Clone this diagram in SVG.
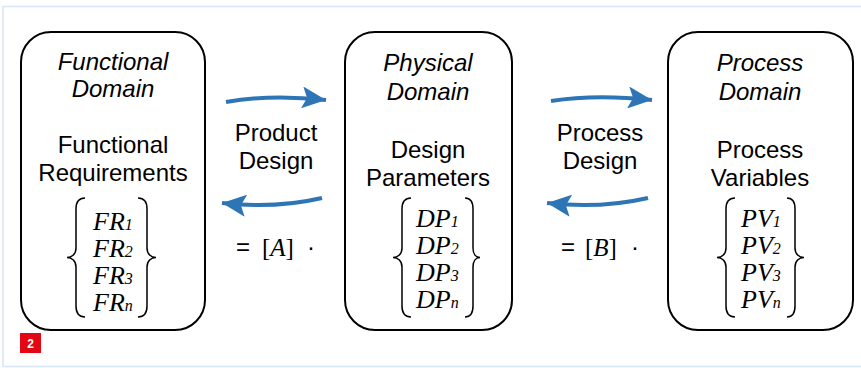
<svg xmlns="http://www.w3.org/2000/svg" width="861" height="368" viewBox="0 0 861 368">
  <defs>
    <style>
      .frame { fill: #ffffff; stroke: #d7e6f6; stroke-width: 1.5; }
      .box { fill: #ffffff; stroke: #000000; stroke-width: 2; }
      .head { font-family: "Liberation Sans", Arial, sans-serif; font-style: italic; font-size: 24px; fill: #000; text-anchor: middle; }
      .lbl { font-family: "Liberation Sans", Arial, sans-serif; font-size: 24px; fill: #000; text-anchor: middle; }
      .math { font-family: "Liberation Serif", "Times New Roman", serif; font-style: italic; font-size: 26px; fill: #000; }
      .sub { font-size: 16px; }
      .brace { fill: none; stroke: #000000; stroke-width: 1.5; }
      .arrow { fill: none; stroke: #2e75b6; stroke-width: 4; }
      .eq { font-family: "Liberation Sans", Arial, sans-serif; font-size: 24px; fill: #000; }
      .br { font-family: "Liberation Serif", "Times New Roman", serif; font-size: 25px; fill: #000; }
    </style>
    <marker id="head" markerUnits="userSpaceOnUse" markerWidth="26" markerHeight="22" refX="24" refY="11" orient="auto">
      <path d="M0,0 L24,11 L0,22 L5,11 Z" fill="#2e75b6"/>
    </marker>
  </defs>

  <rect class="frame" x="3" y="6.5" width="870" height="360"/>

  <!-- Functional domain -->
  <g id="functional-domain">
    <rect class="box" x="21" y="32" width="184" height="298" rx="30"/>
    <text class="head" x="113" y="70">Functional</text>
    <text class="head" x="113" y="97">Domain</text>
    <text class="lbl" x="113" y="153">Functional</text>
    <text class="lbl" x="113" y="181">Requirements</text>
    <path class="brace" d="M85,198 C79,198 76,201 76,209 L76,248 C76,254 72,257.5 67,257.5 C72,257.5 76,261 76,267 L76,306 C76,314 79,317 85,317"/>
    <path class="brace" d="M138,198 C144,198 147,201 147,209 L147,248 C147,254 151,257.5 156,257.5 C151,257.5 147,261 147,267 L147,306 C147,314 144,317 138,317"/>
    <text class="math" x="93" y="230">FR<tspan class="sub">1</tspan></text>
    <text class="math" x="93" y="257">FR<tspan class="sub">2</tspan></text>
    <text class="math" x="93" y="284">FR<tspan class="sub">3</tspan></text>
    <text class="math" x="93" y="311">FR<tspan class="sub">n</tspan></text>
  </g>

  <!-- Physical domain -->
  <g id="physical-domain">
    <rect class="box" x="345" y="32" width="167" height="298" rx="30"/>
    <text class="head" x="428" y="71">Physical</text>
    <text class="head" x="428" y="100">Domain</text>
    <text class="lbl" x="428" y="158">Design</text>
    <text class="lbl" x="428" y="186">Parameters</text>
    <path class="brace" d="M411,198 C405,198 402,201 402,209 L402,248 C402,254 398,257.5 393,257.5 C398,257.5 402,261 402,267 L402,306 C402,314 405,317 411,317"/>
    <path class="brace" d="M465,198 C470,198 473,201 473,209 L473,248 C473,254 476,257.5 480,257.5 C476,257.5 473,261 473,267 L473,306 C473,314 470,317 465,317"/>
    <text class="math" x="416" y="227">DP<tspan class="sub">1</tspan></text>
    <text class="math" x="416" y="254">DP<tspan class="sub">2</tspan></text>
    <text class="math" x="416" y="281">DP<tspan class="sub">3</tspan></text>
    <text class="math" x="416" y="308">DP<tspan class="sub">n</tspan></text>
  </g>

  <!-- Process domain -->
  <g id="process-domain">
    <rect class="box" x="668" y="32" width="185" height="298" rx="30"/>
    <text class="head" x="760" y="71">Process</text>
    <text class="head" x="760" y="100">Domain</text>
    <text class="lbl" x="760" y="158">Process</text>
    <text class="lbl" x="760" y="186">Variables</text>
    <path class="brace" d="M735,198 C729,198 726,201 726,209 L726,248 C726,254 722,257.5 717,257.5 C722,257.5 726,261 726,267 L726,306 C726,314 729,317 735,317"/>
    <path class="brace" d="M787,198 C792,198 795,201 795,209 L795,248 C795,254 799,257.5 804,257.5 C799,257.5 795,261 795,267 L795,306 C795,314 792,317 787,317"/>
    <text class="math" x="741" y="227">PV<tspan class="sub">1</tspan></text>
    <text class="math" x="741" y="254">PV<tspan class="sub">2</tspan></text>
    <text class="math" x="741" y="281">PV<tspan class="sub">3</tspan></text>
    <text class="math" x="741" y="308">PV<tspan class="sub">n</tspan></text>
  </g>

  <!-- Mapping arrows -->
  <g id="connectors">
    <path class="arrow" d="M226,102 Q270,94 326,100" marker-end="url(#head)"/>
    <path class="arrow" d="M322,198 Q275,209 222,203" marker-end="url(#head)"/>
    <path class="arrow" d="M551,101 Q595,94 652,100" marker-end="url(#head)"/>
    <path class="arrow" d="M648,198 Q600,209 547,203" marker-end="url(#head)"/>
  </g>

  <!-- Mapping labels -->
  <g id="product-design">
    <text class="lbl" x="276" y="141">Product</text>
    <text class="lbl" x="276" y="169">Design</text>
    <text class="eq" x="236" y="255">=</text>
    <text class="br" x="262" y="256">[<tspan font-style="italic">A</tspan>]</text>
    <text class="eq" x="307" y="255">·</text>
  </g>
  <g id="process-design">
    <text class="lbl" x="600" y="141">Process</text>
    <text class="lbl" x="600" y="169">Design</text>
    <text class="eq" x="561" y="255">=</text>
    <text class="br" x="585" y="256">[<tspan font-style="italic">B</tspan>]</text>
    <text class="eq" x="631" y="255">·</text>
  </g>

  <!-- Figure badge -->
  <g id="badge">
    <rect x="20" y="333" width="21" height="20" fill="#e30613"/>
    <text x="30.5" y="348" font-family="Liberation Sans, Arial, sans-serif" font-weight="bold" font-size="12" fill="#ffffff" text-anchor="middle">2</text>
  </g>
</svg>
